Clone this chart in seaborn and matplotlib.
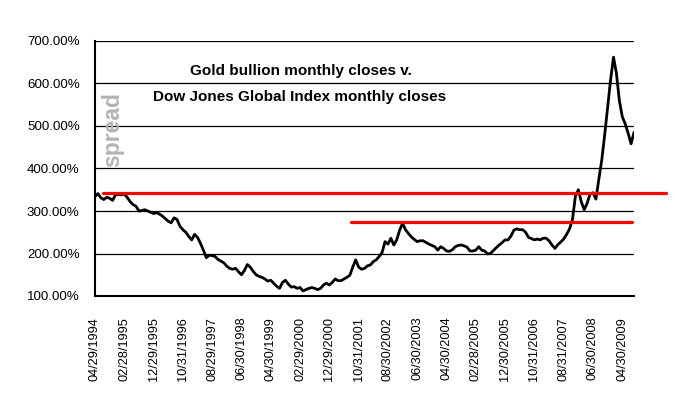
"""
Gold bullion vs Dow Jones Global Index - monthly spread chart
"""

import numpy as np
import pandas as pd
import matplotlib
matplotlib.use('Agg')
import matplotlib.pyplot as plt
import seaborn as sns
from matplotlib.ticker import FuncFormatter

# Monthly spread (%), 04/1994 .. 08/2009
spread = [
    334, 341, 331, 327, 332, 330, 325, 338, 339, 338,
    340, 332, 322, 315, 311, 300, 301, 303, 300, 297,
    294, 296, 293, 288, 282, 276, 272, 284, 280, 264,
    256, 250, 240, 232, 245, 238, 224, 208, 190, 196,
    195, 193, 186, 182, 178, 170, 165, 163, 165, 157,
    150, 160, 174, 168, 158, 150, 146, 144, 140, 135,
    137, 130, 123, 118, 132, 137, 128, 121, 122, 118,
    120, 112, 115, 118, 120, 118, 115, 118, 126, 130,
    126, 132, 140, 136, 136, 140, 144, 149, 168, 185,
    168, 163, 165, 171, 173, 181, 185, 193, 202, 228,
    222, 236, 220, 232, 255, 271, 256, 247, 239, 233,
    228, 230, 230, 226, 222, 219, 216, 208, 216, 212,
    206, 205,
    209, 216, 219, 220, 218, 215, 206, 206, 208, 216,
    208, 206, 199, 200, 207, 214, 220, 226, 232, 232,
    241, 255, 258, 256, 256, 250, 238, 235, 232, 234,
    232, 236, 236, 230, 220, 212, 221, 227, 234, 245,
    258, 280, 335, 350, 322, 303, 318, 340, 343, 328,
    375, 420, 480, 545, 608, 662, 624, 560, 522, 505,
    483, 458, 485,
]

tick_labels = [
    '04/29/1994', '02/28/1995', '12/29/1995', '10/31/1996', '08/29/1997',
    '06/30/1998', '04/30/1999', '02/29/2000', '12/29/2000', '10/31/2001',
    '08/30/2002', '06/30/2003', '04/30/2004', '02/28/2005', '12/30/2005',
    '10/31/2006', '08/31/2007', '06/30/2008', '04/30/2009',
]
tick_months = list(range(0, 181, 10))

# horizontal resistance lines: level (%) and month span
levels = [342, 274]
level_starts = [2.7, 87.4]
level_ends = [194.9, 183.3]

df = pd.DataFrame({'month': np.arange(len(spread)), 'spread': spread})

sns.set_style('white')
plt.rcParams['font.family'] = ['Liberation Sans', 'DejaVu Sans']
plt.rcParams['text.color'] = 'black'
plt.rcParams['xtick.color'] = 'black'
plt.rcParams['ytick.color'] = 'black'

fig = plt.figure(figsize=(6.8, 3.98), dpi=100)
ax = fig.add_axes([95 / 680, 1 - 296 / 398, (634 - 95) / 680, (296 - 41) / 398])

sns.lineplot(data=df, x='month', y='spread', ax=ax, color='black', linewidth=2.0)

for lvl, x0, x1 in zip(levels, level_starts, level_ends):
    ax.plot([x0, x1], [lvl, lvl], color='#ff0000', linewidth=2.3, clip_on=False, zorder=3)

ax.set_xlim(0, 184)
ax.set_ylim(100, 700)
ax.set_yticks(range(100, 701, 100))
ax.yaxis.set_major_formatter(FuncFormatter(lambda v, _: f'{v:.2f}%'))
ax.set_xticks(tick_months)
ax.set_xticklabels(tick_labels, rotation=90)
ax.tick_params(axis='x', length=0, pad=15, labelsize=9.2, colors='black')
ax.tick_params(axis='y', length=0, pad=11, labelsize=9.6, colors='black')
ax.set_xlabel('')
ax.set_ylabel('')

ax.grid(True, axis='y', color='black', linewidth=0.9)
ax.set_axisbelow(True)
for side in ['top', 'right']:
    ax.spines[side].set_visible(False)
for side in ['left', 'bottom']:
    ax.spines[side].set_color('black')
    ax.spines[side].set_linewidth(1.5)

fig.text(301 / 680, 1 - 71 / 398, 'Gold bullion monthly closes v.',
         ha='center', va='center', fontsize=11, fontweight='bold', color='black')
fig.text(300 / 680, 1 - 97 / 398, 'Dow Jones Global Index monthly closes',
         ha='center', va='center', fontsize=11, fontweight='bold', color='black')
fig.text(113 / 680, 1 - 130 / 398, 'spread', rotation=90,
         ha='center', va='center', fontsize=16.5, fontweight='bold', color='#b4b4b4')

plt.savefig('out.png', dpi=100)
